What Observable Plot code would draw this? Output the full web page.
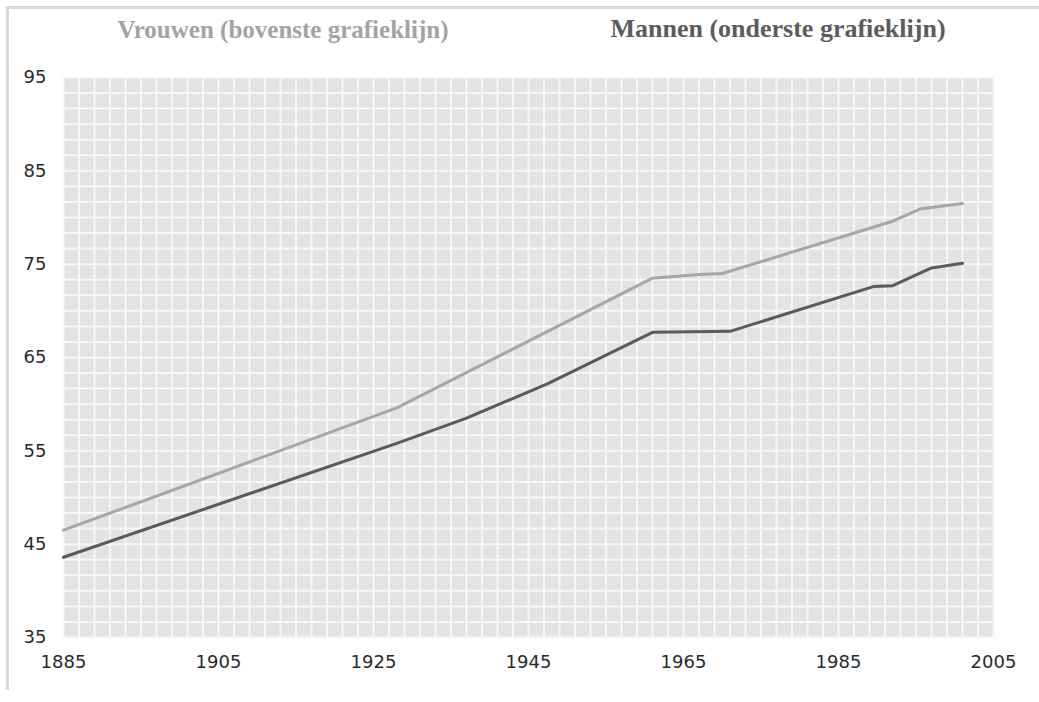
<!DOCTYPE html>
<html>
<head>
<meta charset="utf-8">
<script src="https://cdn.jsdelivr.net/npm/d3@7"></script>
<script src="https://cdn.jsdelivr.net/npm/@observablehq/plot@0.6"></script>
<style>
  html, body { margin: 0; padding: 0; background: #fff; }
  #wrap { position: relative; width: 1039px; height: 702px; overflow: hidden; }
  #frame { position: absolute; left: 6px; top: 6px; right: -10px; bottom: 12px;
           border-top: 3px solid #d9d9d9; border-left: 3px solid #d9d9d9; pointer-events: none; }
  #header { position: relative; height: 62px; }
  .title { position: absolute; top: 16px; width: 440px; text-align: center;
           font-family: "Liberation Serif", "Times New Roman", serif; font-weight: bold;
           font-size: 25px; line-height: 28px; white-space: nowrap; }
  #t-women { left: 63px; color: #a3a3a3; }
  #t-men { left: 558px; color: #5c5c5c; font-size: 26px; top: 15px; }
  #chart svg { display: block; }
</style>
</head>
<body>
<div id="wrap">
  <div id="frame"></div>
  <div id="header">
    <div class="title" id="t-women">Vrouwen (bovenste grafieklijn)</div>
    <div class="title" id="t-men">Mannen (onderste grafieklijn)</div>
  </div>
  <div id="chart"></div>
</div>
<script>
// Life expectancy at birth (years)
const womenYears = [1885, 1928, 1961, 1967, 1970, 1992, 1995.5, 2001];
const womenValues = [46.5, 59.6, 73.5, 73.9, 74.0, 79.6, 80.9, 81.5];

const menYears = [1885, 1928, 1937, 1947.5, 1961, 1971, 1989.5, 1992, 1997, 2001];
const menValues = [43.6, 55.8, 58.5, 62.2, 67.7, 67.8, 72.6, 72.7, 74.6, 75.1];

const xTicks = [1885, 1905, 1925, 1945, 1965, 1985, 2005];
const yTicks = [35, 45, 55, 65, 75, 85, 95];

// background grid pattern (fine cells)
const gridYears = d3.range(1885, 2005.01, 2);
const gridValues = d3.range(0, 37).map(i => 35 + i * 60 / 36);

const women = womenYears.map((year, i) => ({year, value: womenValues[i]}));
const men = menYears.map((year, i) => ({year, value: menValues[i]}));

const chart = Plot.plot({
  width: 1039,
  height: 640,
  marginTop: 15,
  marginBottom: 65,
  marginLeft: 63,
  marginRight: 46,
  style: {fontFamily: "'DejaVu Sans', Verdana, sans-serif", fontSize: "18px", color: "#2a2a2a", background: "#fff", overflow: "visible"},
  x: {domain: [1885, 2005], ticks: xTicks, tickFormat: d => String(d), tickSize: 0, tickPadding: 18, label: null},
  y: {domain: [35, 95], ticks: yTicks, tickSize: 0, tickPadding: 17, label: null},
  marks: [
    Plot.frame({fill: "#e3e3e3", stroke: null}),
    Plot.ruleX(gridYears, {stroke: "#f7f7f7", strokeWidth: 2, strokeOpacity: 1}),
    Plot.ruleY(gridValues, {stroke: "#f7f7f7", strokeWidth: 2, strokeOpacity: 1}),
    Plot.line(women, {x: "year", y: "value", stroke: "#a6a6a6", strokeWidth: 3}),
    Plot.line(men, {x: "year", y: "value", stroke: "#5a5a5a", strokeWidth: 3})
  ]
});
document.getElementById("chart").appendChild(chart);
</script>
</body>
</html>
